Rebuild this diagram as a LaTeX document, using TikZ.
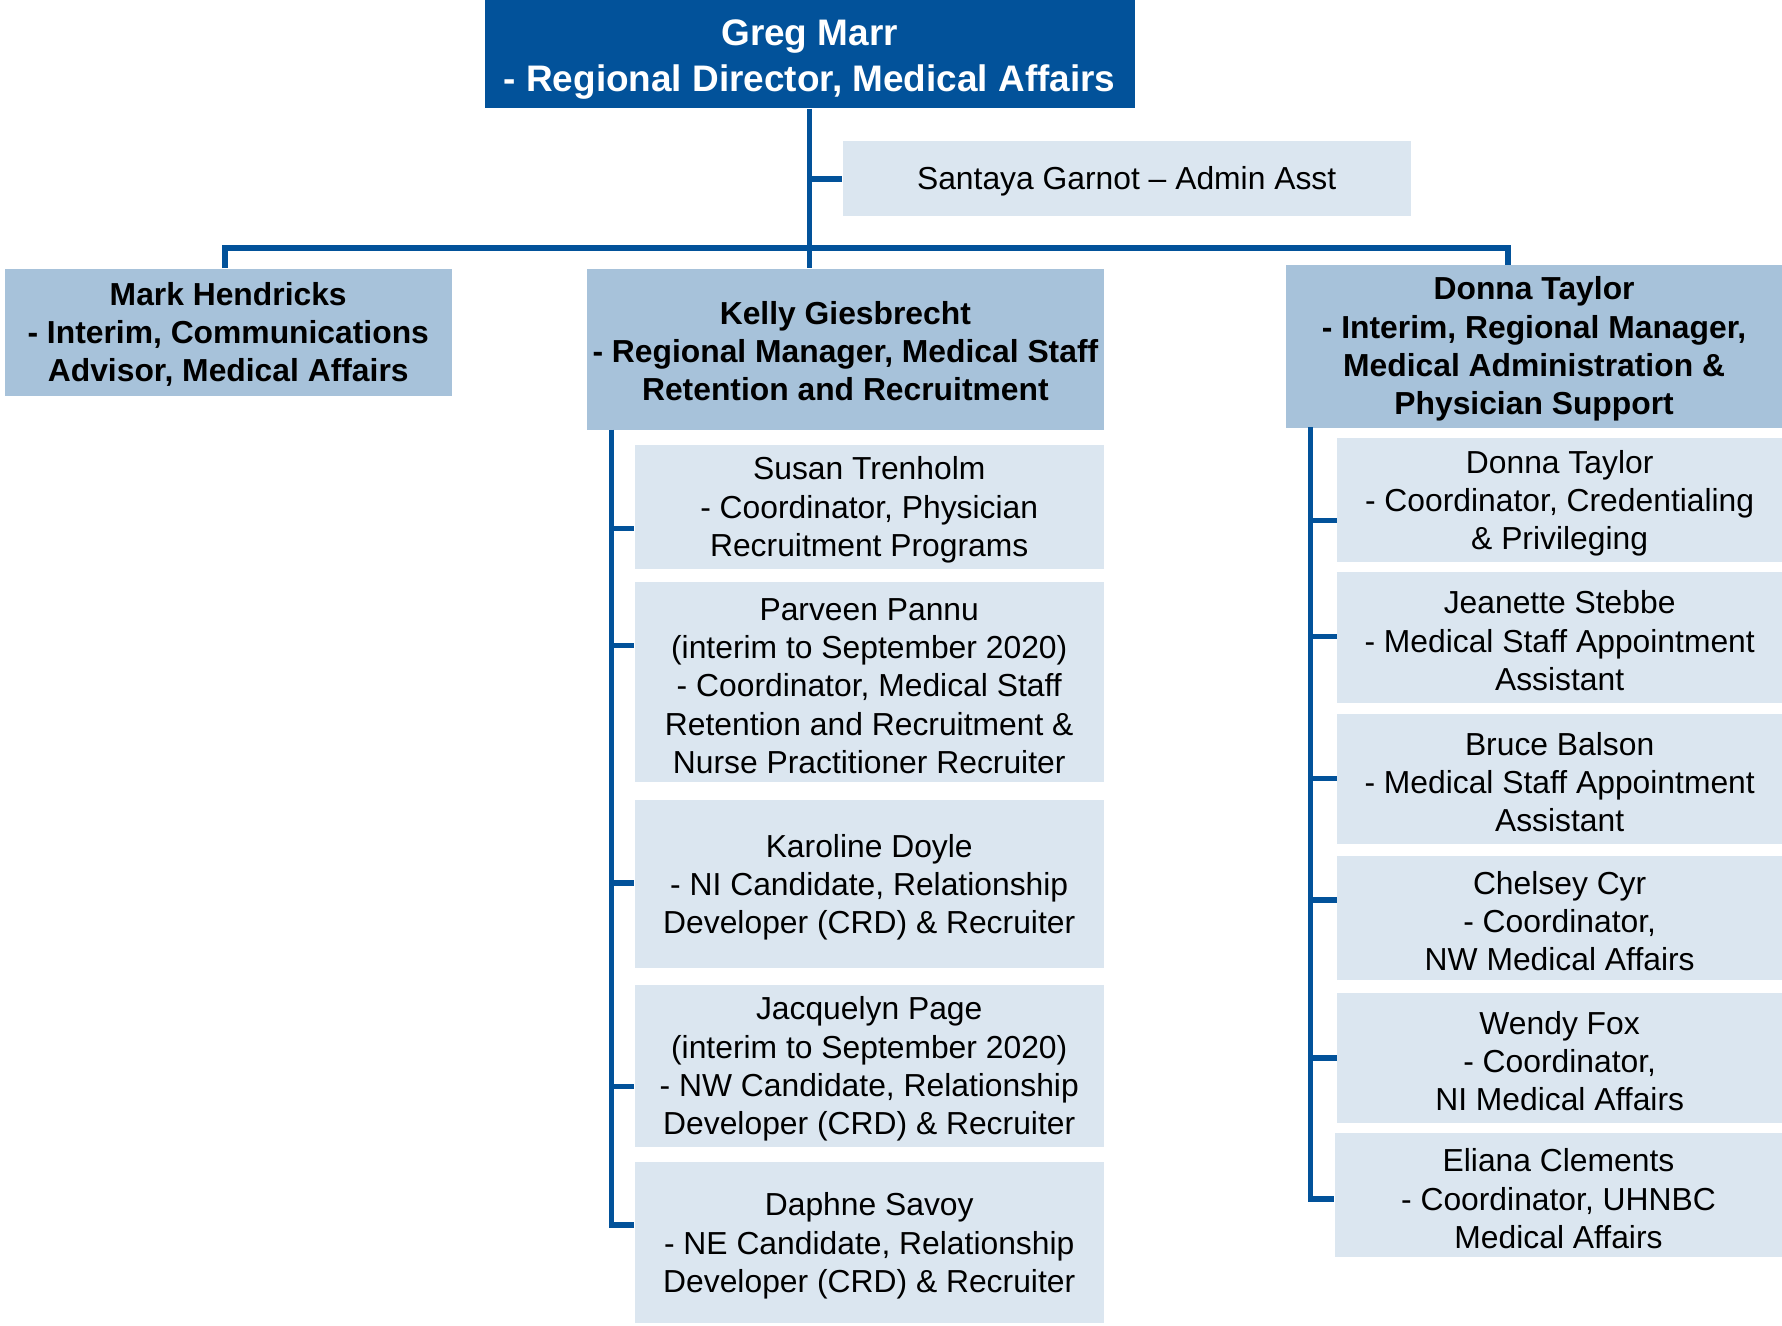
\documentclass[tikz,border=0pt]{standalone}
\usepackage{fontspec}
\setmainfont{Liberation Sans}
\usetikzlibrary{positioning}

\definecolor{topblue}{RGB}{2,82,154}
\definecolor{midblue}{RGB}{167,194,218}
\definecolor{paleblue}{RGB}{219,230,240}

\newcommand{\lift}[1]{\rule{0pt}{#1}}

\begin{document}
\begin{tikzpicture}
  [x=0.6pt, y=-0.6pt
  ,box/.style={anchor=north west, inner sep=0pt, align=center}
  ,boxsize/.style 2 args={minimum width=(#1)*0.6pt, minimum height=(#2)*0.6pt}
  ,head/.style={box, fill=topblue, text=white, font=\fontsize{19.5}{24}\selectfont\bfseries}
  ,lead/.style={box, fill=midblue, font=\fontsize{16.8}{20.2}\selectfont\bfseries}
  ,staff/.style={box, fill=paleblue, font=\fontsize{16.8}{20.2}\selectfont}
  ,link/.style={draw=topblue, line width=3pt}
  ]

  % Staff box
  %
  % #1 - name
  % #2 - left x
  % #3 - top y
  % #4 - width
  % #5 - bottom y
  % #6 - branch y
  % #7 - text
  \newcommand{\staffbox}[7]{
    \node[staff, boxsize={#4}{#5-#3}] (#1) at (#2,#3) {\lift{15.6pt}#7};
    \coordinate (#1-in) at (#2,#6);
  }

  \useasboundingbox (0,0) rectangle (1568,1166);

  % director
  \node[head, boxsize={572}{95}] (greg) at (426,0)
    {\lift{19pt}Greg Marr\\- Regional Director, Medical Affairs};

  % admin
  \node[staff, boxsize={500}{66}] (santaya) at (741,124)
    {\lift{15pt}Santaya Garnot -- Admin Asst};

  % managers
  \node[lead, boxsize={393}{112}] (mark) at (4,236)
    {\lift{14.7pt}Mark Hendricks\\- Interim, Communications\\Advisor, Medical Affairs};
  \node[lead, boxsize={455}{142}] (kelly) at (516,236)
    {\lift{14.2pt}Kelly Giesbrecht\\- Regional Manager, Medical Staff\\Retention and Recruitment};
  \node[lead, boxsize={437}{143}] (donna) at (1131,233)
    {\lift{15pt}Donna Taylor\\- Interim, Regional Manager,\\Medical Administration \&\\Physician Support};

  % Kelly's team
  \staffbox{ks1}{558}{391}{413}{500}{465}
    {Susan Trenholm\\- Coordinator, Physician\\Recruitment Programs}
  \staffbox{ks2}{558}{512}{413}{688}{568}
    {Parveen Pannu\\(interim to September 2020)\\- Coordinator, Medical Staff\\Retention and Recruitment \&\\Nurse Practitioner Recruiter}
  \staffbox{ks3}{558}{704}{413}{851}{777}
    {Karoline Doyle\\- NI Candidate, Relationship\\Developer (CRD) \& Recruiter}
  \staffbox{ks4}{558}{866}{413}{1009}{956}
    {Jacquelyn Page\\(interim to September 2020)\\- NW Candidate, Relationship\\Developer (CRD) \& Recruiter}
  \staffbox{ks5}{558}{1022}{413}{1164}{1078}
    {Daphne Savoy\\- NE Candidate, Relationship\\Developer (CRD) \& Recruiter}

  % Donna's team
  \staffbox{ds1}{1176}{385}{392}{494}{458}
    {Donna Taylor\\- Coordinator, Credentialing\\\& Privileging}
  \staffbox{ds2}{1176}{503}{392}{618}{560}
    {Jeanette Stebbe\\- Medical Staff Appointment\\Assistant}
  \staffbox{ds3}{1176}{628}{392}{742}{685}
    {Bruce Balson\\- Medical Staff Appointment\\Assistant}
  \staffbox{ds4}{1176}{753}{392}{862}{792}
    {Chelsey Cyr\\- Coordinator,\\NW Medical Affairs}
  \staffbox{ds5}{1176}{873}{392}{988}{931}
    {Wendy Fox\\- Coordinator,\\NI Medical Affairs}
  \staffbox{ds6}{1174}{997}{394}{1106}{1055}
    {Eliana Clements\\- Coordinator, UHNBC\\Medical Affairs}

  % trunk and bus
  \coordinate (busl) at (198,218);
  \coordinate (busr) at (1327,218);
  \draw[link] (greg.south) -- (greg.south |- kelly.north);
  \draw[link] (greg.south |- santaya.west) -- (santaya.west);
  \draw[link] (busl |- mark.north) -- (busl) -- (busr) -- (busr |- donna.north);

  % spines
  \coordinate (kspine) at (538,378);
  \coordinate (dspine) at (1153,376);
  \draw[link] (kspine) |- (ks5-in);
  \foreach \i in {1,...,4}
    \draw[link] (kspine |- ks\i-in) -- (ks\i-in);
  \draw[link] (dspine) |- (ds6-in);
  \foreach \i in {1,...,5}
    \draw[link] (dspine |- ds\i-in) -- (ds\i-in);

\end{tikzpicture}
\end{document}
